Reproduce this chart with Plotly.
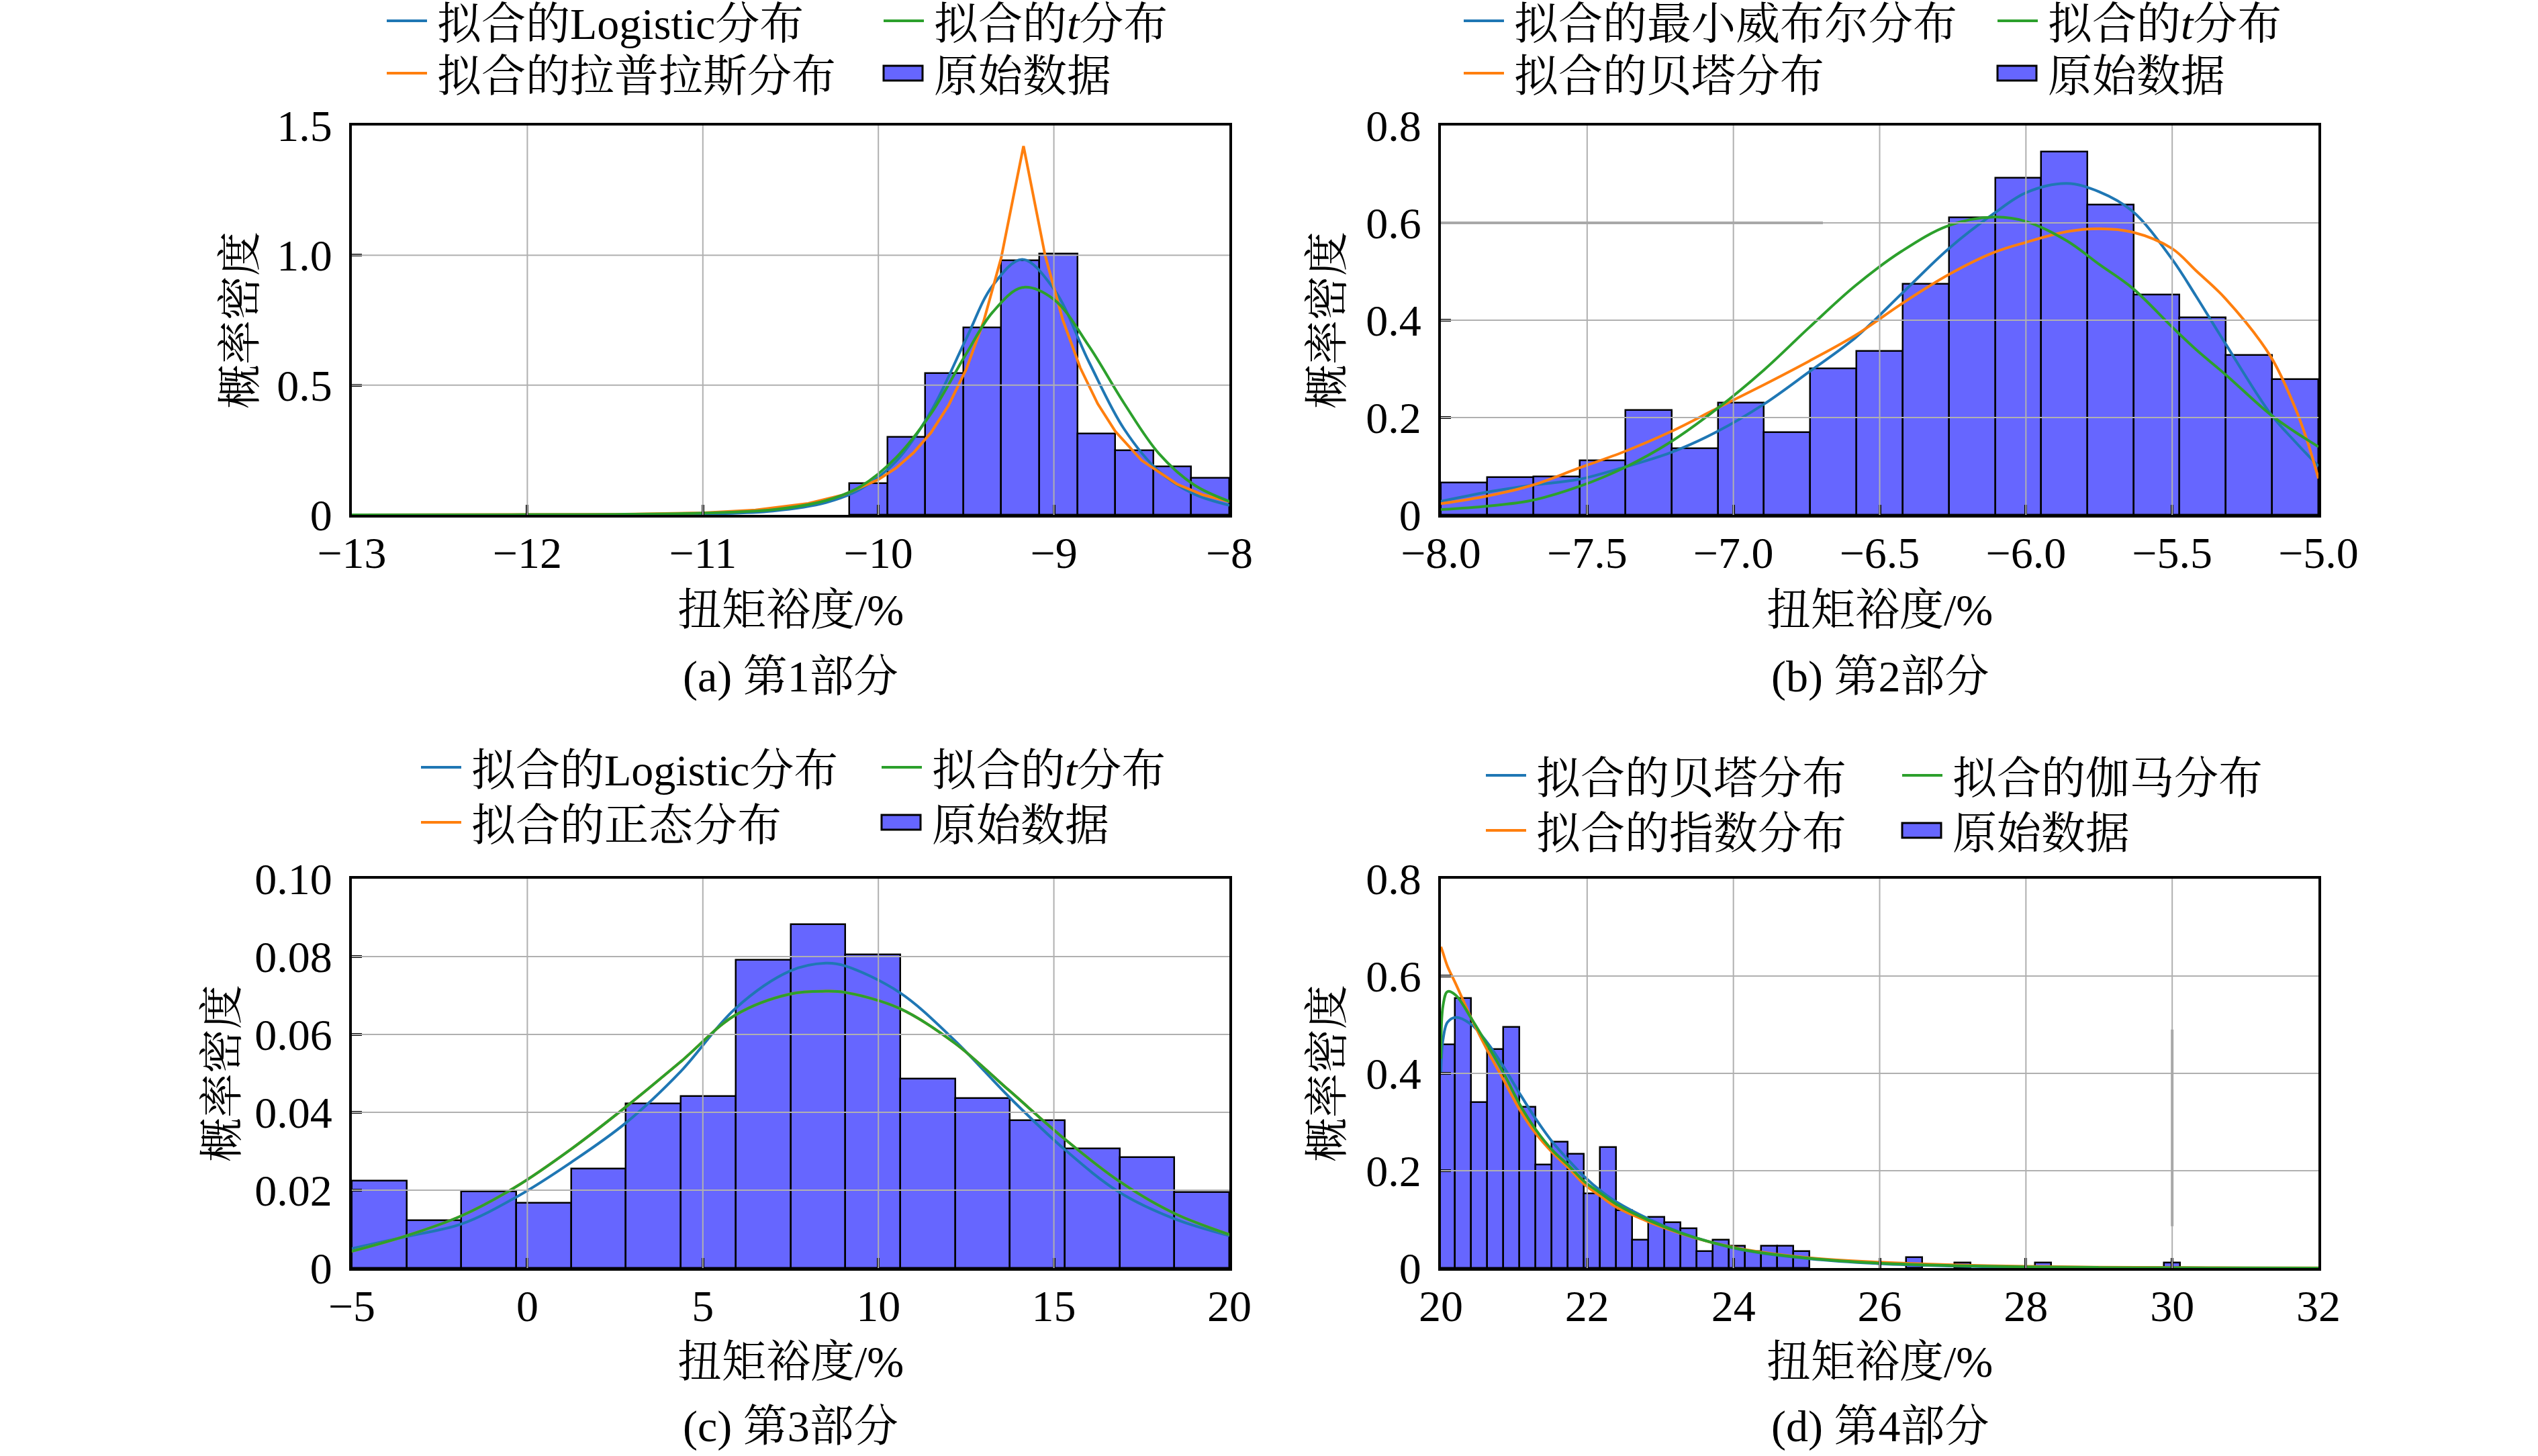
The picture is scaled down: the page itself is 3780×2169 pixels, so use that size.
import plotly.graph_objects as go

W, H = 3780, 2169
BLUE, ORANGE, GREEN = "#1f77b4", "#ff7f0e", "#2ca02c"
BAR_FILL = "#6666ff"
GRID = "#b0b0b0"
FONT = "Liberation Serif, Noto Serif CJK SC, Noto Sans CJK SC, serif"
FS = 66

# ---------------- (a) 第1部分 ----------------
a_edges = [-10.166, -9.949, -9.733, -9.516, -9.299, -9.083, -8.866, -8.650, -8.433, -8.217, -8.000]
a_hist = [0.121, 0.299, 0.546, 0.721, 0.980, 1.007, 0.312, 0.248, 0.185, 0.143]
a_curve_x = [-13, -12, -11.5, -11, -10.6, -10.3, -10.1, -9.9, -9.7, -9.5, -9.35, -9.18, -9.0, -8.8, -8.6, -8.4, -8.2, -8.0]
a_logistic = [0.0, 0.0002, 0.0008, 0.003, 0.015, 0.047, 0.10, 0.206, 0.399, 0.678, 0.882, 0.984, 0.87, 0.589, 0.331, 0.167, 0.08, 0.037]
a_t = [0.0, 0.001, 0.002, 0.007, 0.02, 0.055, 0.11, 0.22, 0.39, 0.62, 0.78, 0.876, 0.83, 0.65, 0.43, 0.235, 0.115, 0.052]
a_lap_x = [-13, -12, -11.5, -11.0, -10.7, -10.4, -10.2, -10.0, -9.9, -9.8, -9.7, -9.6, -9.5, -9.4, -9.3, -9.173,
           -9.05, -8.95, -8.85, -8.75, -8.65, -8.5, -8.3, -8.15, -8.0]
a_laplace = [0.0, 0.0005, 0.0019, 0.0079, 0.0186, 0.044, 0.077, 0.136, 0.180, 0.239, 0.317, 0.422, 0.560, 0.746, 0.991, 1.421,
             1.0, 0.753, 0.567, 0.428, 0.322, 0.21, 0.119, 0.077, 0.051]
a_xticks = [-13, -12, -11, -10, -9, -8]
a_xtick_text = ["\u221213", "\u221212", "\u221211", "\u221210", "\u22129", "\u22128"]
a_yticks = [0, 0.5, 1.0, 1.5]
a_ytick_text = ["0", "0.5", "1.0", "1.5"]

# ---------------- (b) 第2部分 ----------------
b_edges = [-8.0, -7.842, -7.684, -7.526, -7.368, -7.211, -7.053, -6.895, -6.737, -6.579, -6.421,
           -6.263, -6.105, -5.947, -5.789, -5.632, -5.474, -5.316, -5.158, -5.0]
b_hist = [0.066, 0.077, 0.078, 0.112, 0.215, 0.136, 0.231, 0.169, 0.301, 0.337, 0.474,
          0.611, 0.693, 0.746, 0.637, 0.453, 0.405, 0.328, 0.279]
b_curve_x = [-8.0, -7.84, -7.687, -7.529, -7.373, -7.214, -7.056, -6.897, -6.741, -6.583, -6.424, -6.266,
             -6.11, -6.0, -5.86, -5.75, -5.636, -5.5, -5.419, -5.319, -5.164, -5.079, -5.04, -5.0]
b_weibull = [0.028, 0.047, 0.061, 0.073, 0.098, 0.128, 0.171, 0.227, 0.294, 0.364, 0.455, 0.546,
             0.619, 0.662, 0.681, 0.664, 0.624, 0.525, 0.45, 0.353, 0.208, 0.15, 0.125, 0.1]
b_beta = [0.023, 0.039, 0.061, 0.096, 0.130, 0.171, 0.219, 0.267, 0.316, 0.369, 0.434, 0.493,
          0.539, 0.56, 0.582, 0.588, 0.581, 0.547, 0.502, 0.445, 0.326, 0.219, 0.155, 0.075]
b_t = [0.011, 0.018, 0.030, 0.058, 0.097, 0.150, 0.218, 0.297, 0.385, 0.471, 0.542, 0.594,
       0.612, 0.603, 0.563, 0.515, 0.466, 0.386, 0.34, 0.289, 0.206, 0.17, 0.155, 0.14]
b_xticks = [-8.0, -7.5, -7.0, -6.5, -6.0, -5.5, -5.0]
b_xtick_text = ["\u22128.0", "\u22127.5", "\u22127.0", "\u22126.5", "\u22126.0", "\u22125.5", "\u22125.0"]
b_yticks = [0, 0.2, 0.4, 0.6, 0.8]
b_ytick_text = ["0", "0.2", "0.4", "0.6", "0.8"]

# ---------------- (c) 第3部分 ----------------
c_edges = [-5.0, -3.4375, -1.875, -0.3125, 1.25, 2.8125, 4.375, 5.9375, 7.5, 9.0625, 10.625,
           12.1875, 13.75, 15.3125, 16.875, 18.4375, 20.0]
c_hist = [0.0225, 0.0123, 0.0196, 0.0168, 0.0255, 0.0423, 0.0441, 0.0791, 0.0882, 0.0806,
          0.0487, 0.0437, 0.0379, 0.0307, 0.0284, 0.0194]
c_curve_x = [-5, -3.44, -1.88, -0.32, 1.24, 2.81, 4.37, 5.93, 7.49, 8.5, 9.05, 10.6, 12.17, 13.74, 15.3, 16.86, 18.42, 20]
c_logistic = [0.005, 0.0081, 0.0113, 0.0182, 0.0271, 0.0373, 0.0505, 0.0667, 0.0763, 0.0783, 0.0776, 0.0708,
              0.0585, 0.0438, 0.0305, 0.0195, 0.0127, 0.0083]
c_normal = [0.0043, 0.0083, 0.0134, 0.0209, 0.0305, 0.0414, 0.053, 0.065, 0.0704, 0.0711, 0.0708, 0.0667,
            0.0578, 0.0455, 0.0332, 0.0223, 0.0141, 0.0086]
c_t = [0.0043, 0.0083, 0.0134, 0.0209, 0.0305, 0.0414, 0.053, 0.065, 0.0704, 0.0711, 0.0708, 0.0667,
       0.0578, 0.0455, 0.0332, 0.0223, 0.0141, 0.0086]
c_xticks = [-5, 0, 5, 10, 15, 20]
c_xtick_text = ["\u22125", "0", "5", "10", "15", "20"]
c_yticks = [0, 0.02, 0.04, 0.06, 0.08, 0.10]
c_ytick_text = ["0", "0.02", "0.04", "0.06", "0.08", "0.10"]

# ---------------- (d) 第4部分 ----------------
d_left = [19.976, 20.196, 20.416, 20.637, 20.857, 21.077, 21.297, 21.517, 21.738, 21.958, 22.178, 22.398,
          22.618, 22.839, 23.059, 23.279, 23.499, 23.719, 23.940, 24.160, 24.380, 24.600, 24.820,
          26.362, 27.022, 28.123, 29.885]
d_width = 0.2202
d_hist = [0.460, 0.555, 0.341, 0.449, 0.495, 0.331, 0.212, 0.260, 0.235, 0.153, 0.248, 0.118,
          0.058, 0.105, 0.094, 0.082, 0.034, 0.058, 0.045, 0.034, 0.045, 0.045, 0.034,
          0.022, 0.011, 0.011, 0.011]
d_curve_x = [20.0, 20.03, 20.09, 20.2, 20.42, 20.64, 20.86, 21.08, 21.3, 21.52, 21.75, 21.96, 22.19, 22.4,
             22.84, 23.28, 23.72, 24.16, 25.04, 26.0, 27.0, 28.0, 29.0, 30.0, 31.0, 32.0]
d_beta = [0.40, 0.47, 0.505, 0.515, 0.50, 0.462, 0.413, 0.358, 0.306, 0.26, 0.221, 0.188, 0.158, 0.136,
          0.101, 0.073, 0.052, 0.036, 0.019, 0.009, 0.004, 0.0015, 0.0005, 0.0002, 0.0001, 0.0]
d_expon = [0.66, 0.647, 0.62, 0.585, 0.512, 0.446, 0.386, 0.325, 0.276, 0.238, 0.205, 0.172, 0.147, 0.125,
           0.095, 0.071, 0.052, 0.038, 0.021, 0.012, 0.0065, 0.0035, 0.0018, 0.001, 0.0005, 0.0003]
d_gamma = [0.43, 0.54, 0.568, 0.561, 0.512, 0.457, 0.40, 0.336, 0.284, 0.243, 0.21, 0.178, 0.153, 0.131,
           0.098, 0.072, 0.052, 0.037, 0.020, 0.010, 0.005, 0.0025, 0.0012, 0.0006, 0.0003, 0.0001]
d_xticks = [20, 22, 24, 26, 28, 30, 32]
d_xtick_text = ["20", "22", "24", "26", "28", "30", "32"]
d_yticks = [0, 0.2, 0.4, 0.6, 0.8]
d_ytick_text = ["0", "0.2", "0.4", "0.6", "0.8"]


def centers_widths(edges):
    c = [(lo + hi) / 2 for lo, hi in zip(edges[:-1], edges[1:])]
    w = [hi - lo for lo, hi in zip(edges[:-1], edges[1:])]
    return c, w


a_c, a_w = centers_widths(a_edges)
b_c, b_w = centers_widths(b_edges)
c_c, c_w = centers_widths(c_edges)
d_c = [l + d_width / 2 for l in d_left]
d_w = [d_width] * len(d_left)

# pixel layout of the four panels
LEFT_X, RIGHT_X = (524, 1831), (2146, 3453)
TOP_Y, BOT_Y = (187, 767), (1309, 1889)

panels = [
    dict(ax="", px_x=LEFT_X, px_y=TOP_Y, xr=[-13, -8], yr=[0, 1.5],
         bars=(a_c, a_w, a_hist),
         curves=[(a_curve_x, a_logistic, BLUE, "拟合的Logistic分布", "spline"),
                 (a_lap_x, a_laplace, ORANGE, "拟合的拉普拉斯分布", "linear"),
                 (a_curve_x, a_t, GREEN, "拟合的t分布", "spline")],
         xt=(a_xticks, a_xtick_text), yt=(a_yticks, a_ytick_text),
         legend=["拟合的Logistic分布", "拟合的<i>t</i>分布", "拟合的拉普拉斯分布", "原始数据"],
         leg_hx=(576, 1316), leg_rows=(35, 113),
         ytitle_x=357, xtitle_y=908, cap_y=1008, caption="(a) 第1部分"),
    dict(ax="2", px_x=RIGHT_X, px_y=TOP_Y, xr=[-8, -5], yr=[0, 0.8],
         bars=(b_c, b_w, b_hist),
         curves=[(b_curve_x, b_weibull, BLUE, "拟合的最小威布尔分布", "spline"),
                 (b_curve_x, b_beta, ORANGE, "拟合的贝塔分布", "spline"),
                 (b_curve_x, b_t, GREEN, "拟合的t分布", "spline")],
         xt=(b_xticks, b_xtick_text), yt=(b_yticks, b_ytick_text),
         legend=["拟合的最小威布尔分布", "拟合的<i>t</i>分布", "拟合的贝塔分布", "原始数据"],
         leg_hx=(2180, 2975), leg_rows=(35, 113),
         ytitle_x=1976, xtitle_y=908, cap_y=1008, caption="(b) 第2部分"),
    dict(ax="3", px_x=LEFT_X, px_y=BOT_Y, xr=[-5, 20], yr=[0, 0.10],
         bars=(c_c, c_w, c_hist),
         curves=[(c_curve_x, c_logistic, BLUE, "拟合的Logistic分布", "spline"),
                 (c_curve_x, c_normal, ORANGE, "拟合的正态分布", "spline"),
                 (c_curve_x, c_t, GREEN, "拟合的t分布", "spline")],
         xt=(c_xticks, c_xtick_text), yt=(c_yticks, c_ytick_text),
         legend=["拟合的Logistic分布", "拟合的<i>t</i>分布", "拟合的正态分布", "原始数据"],
         leg_hx=(627, 1313), leg_rows=(1147, 1229),
         ytitle_x=330, xtitle_y=2028, cap_y=2125, caption="(c) 第3部分"),
    dict(ax="4", px_x=RIGHT_X, px_y=BOT_Y, xr=[20, 32], yr=[0, 0.8],
         bars=(d_c, d_w, d_hist),
         curves=[(d_curve_x, d_beta, BLUE, "拟合的贝塔分布", "spline"),
                 (d_curve_x, d_expon, ORANGE, "拟合的指数分布", "spline"),
                 (d_curve_x, d_gamma, GREEN, "拟合的伽马分布", "spline")],
         xt=(d_xticks, d_xtick_text), yt=(d_yticks, d_ytick_text),
         legend=["拟合的贝塔分布", "拟合的伽马分布", "拟合的指数分布", "原始数据"],
         leg_hx=(2213, 2833), leg_rows=(1159, 1241),
         ytitle_x=1976, xtitle_y=2028, cap_y=2125, caption="(d) 第4部分"),
]


def fx(p):
    return p / W


def fy(p):
    return 1 - p / H


fig = go.Figure()
shapes, annotations = [], []
axis_common = dict(showline=True, linecolor="black", linewidth=4, mirror=True,
                   ticks="inside", ticklen=15, tickwidth=4, tickcolor="black",
                   showgrid=False, zeroline=False, layer="above traces", automargin=False,
                   tickfont=dict(size=FS, color="black", family=FONT))

for p in panels:
    xa, ya = "x" + p["ax"], "y" + p["ax"]
    c, w, h = p["bars"]
    fig.add_trace(go.Bar(x=c, y=h, width=w, xaxis=xa, yaxis=ya, name="原始数据",
                         marker=dict(color=BAR_FILL, line=dict(color="black", width=2.5)),
                         showlegend=False))
    for cx, cy, col, nm, shp in p["curves"]:
        fig.add_trace(go.Scatter(x=cx, y=cy, mode="lines", xaxis=xa, yaxis=ya, name=nm,
                                 line=dict(color=col, width=4, shape=shp), showlegend=False))

    fig.layout["xaxis" + p["ax"]] = dict(
        axis_common, domain=[fx(p["px_x"][0]), fx(p["px_x"][1])], range=p["xr"], anchor=ya,
        tickmode="array", tickvals=p["xt"][0], ticktext=p["xt"][1], ticklabelstandoff=-4)
    fig.layout["yaxis" + p["ax"]] = dict(
        axis_common, domain=[fy(p["px_y"][1]), fy(p["px_y"][0])], range=p["yr"], anchor=xa,
        tickmode="array", tickvals=p["yt"][0], ticktext=p["yt"][1], ticklabelstandoff=12)

    # grid lines drawn over the bars
    for v in p["xt"][0][1:-1]:
        shapes.append(dict(type="line", xref=xa, yref=ya + " domain", x0=v, x1=v, y0=0, y1=1,
                           line=dict(color=GRID, width=2), layer="above"))
    for v in p["yt"][0][1:-1]:
        shapes.append(dict(type="line", xref=xa + " domain", yref=ya, x0=0, x1=1, y0=v, y1=v,
                           line=dict(color=GRID, width=2), layer="above"))

    # legend (2 x 2)
    colors = [BLUE, GREEN, ORANGE, None]
    for i, txt in enumerate(p["legend"]):
        col_i, row_i = i % 2, i // 2
        hx = p["leg_hx"][col_i]
        ry = p["leg_rows"][row_i]
        hy = ry - 4
        if colors[i]:
            shapes.append(dict(type="line", xref="paper", yref="paper",
                               x0=fx(hx), x1=fx(hx + 60), y0=fy(hy), y1=fy(hy),
                               line=dict(color=colors[i], width=4)))
        else:
            shapes.append(dict(type="rect", xref="paper", yref="paper",
                               x0=fx(hx), x1=fx(hx + 58), y0=fy(hy + 11), y1=fy(hy - 11),
                               fillcolor=BAR_FILL, line=dict(color="black", width=3)))
        annotations.append(dict(text=txt, xref="paper", yref="paper", x=fx(hx + 73),
                                y=fy(ry), xanchor="left", yanchor="middle", showarrow=False,
                                font=dict(size=FS, color="black", family=FONT)))

    xc = (p["px_x"][0] + p["px_x"][1]) / 2
    yc = (p["px_y"][0] + p["px_y"][1]) / 2
    annotations.append(dict(text="概率密度", xref="paper", yref="paper", x=fx(p["ytitle_x"]), y=fy(yc),
                            textangle=-90, showarrow=False, xanchor="center", yanchor="middle",
                            font=dict(size=FS, color="black", family=FONT)))
    annotations.append(dict(text="扭矩裕度/%", xref="paper", yref="paper", x=fx(xc), y=fy(p["xtitle_y"]),
                            showarrow=False, xanchor="center", yanchor="middle",
                            font=dict(size=FS, color="black", family=FONT)))
    annotations.append(dict(text=p["caption"], xref="paper", yref="paper", x=fx(xc), y=fy(p["cap_y"]),
                            showarrow=False, xanchor="center", yanchor="middle",
                            font=dict(size=FS, color="black", family=FONT)))

# darker grid segments seen in the original
shapes.append(dict(type="line", xref="x2", yref="y2", x0=-8.0, x1=-6.694, y0=0.6, y1=0.6,
                   line=dict(color="#a8a8a8", width=4), layer="above"))
shapes.append(dict(type="line", xref="x4", yref="y4", x0=30, x1=30, y0=0.086, y1=0.49,
                   line=dict(color="#a8a8a8", width=4), layer="above"))

fig.update_layout(width=W, height=H, margin=dict(l=0, r=0, t=0, b=0, autoexpand=False),
                  paper_bgcolor="white", plot_bgcolor="white",
                  font=dict(family=FONT, color="black"),
                  barmode="overlay", bargap=0,
                  shapes=shapes, annotations=annotations, showlegend=False)

fig.write_html("out.html", config={"displayModeBar": False},
               post_script="document.body.style.margin = '0';")
